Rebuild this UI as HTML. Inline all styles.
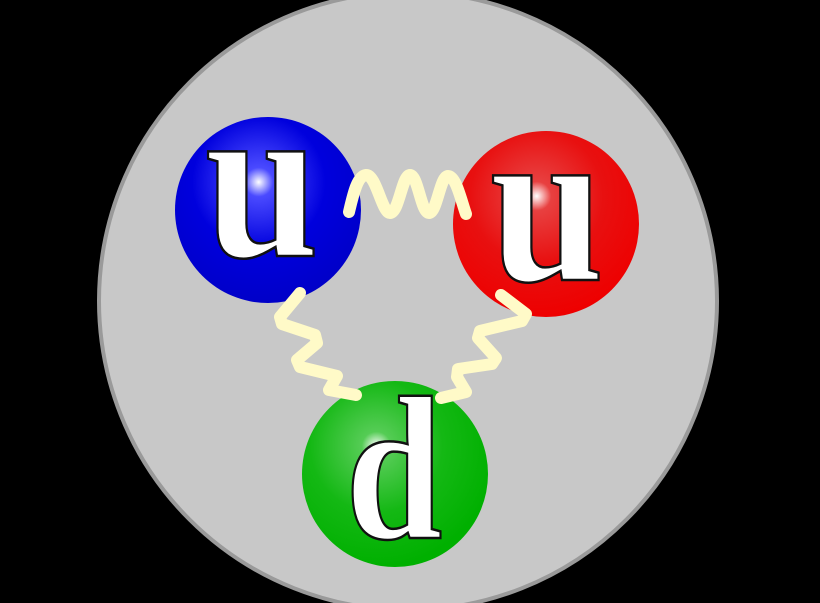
<!DOCTYPE html>
<html><head><style>html,body{margin:0;padding:0;background:#000;}svg{display:block}</style></head>
<body>
<svg width="820" height="603" viewBox="0 0 820 603" xmlns="http://www.w3.org/2000/svg">
<defs>
<radialGradient id="gb" cx="0.45" cy="0.35" r="0.65" fx="0.45" fy="0.35">
<stop offset="0" stop-color="#ffffff"/><stop offset="0.12" stop-color="#4a4aff"/><stop offset="0.55" stop-color="#0000dd"/><stop offset="1" stop-color="#0000c8"/></radialGradient>
<radialGradient id="gr" cx="0.45" cy="0.35" r="0.65" fx="0.45" fy="0.35">
<stop offset="0" stop-color="#ffffff"/><stop offset="0.12" stop-color="#e84040"/><stop offset="0.55" stop-color="#e81010"/><stop offset="1" stop-color="#ee0000"/></radialGradient>
<radialGradient id="gg" cx="0.4" cy="0.35" r="0.65" fx="0.4" fy="0.35">
<stop offset="0" stop-color="#ffffff"/><stop offset="0.12" stop-color="#55cc55"/><stop offset="0.55" stop-color="#14b814"/><stop offset="1" stop-color="#00b000"/></radialGradient>
</defs>
<rect width="820" height="603" fill="#000"/>
<circle cx="408" cy="301" r="309" fill="#c8c8c8" stroke="#9a9a9a" stroke-width="4"/>
<circle cx="268" cy="210" r="93" fill="url(#gb)"/>
<circle cx="546" cy="224" r="93" fill="url(#gr)"/>
<circle cx="395" cy="474" r="93" fill="url(#gg)"/>
<g fill="none" stroke="#fffac8" stroke-width="12" stroke-linecap="round" stroke-linejoin="round">
<path d="M349,212 C353,195 357,176 366,175 C376,174 382,213 390,213 C399,213 402,175 410,175 C418,175 421,213 429,213 C437,213 440,176 448,176 C456,176 461,200 466,214"/>
<polyline points="300,293 280,317 282,324 315,335 317,343 297,360 300,367 337,376 329,390 356,395"/>
<polyline points="501,295 526,314 522,321 480,331 478,338 496,358 492,364 458,369 457,377 466,392 441,398"/>
</g>
<g font-family="Liberation Serif, serif" font-weight="bold" fill="#fff" stroke="#111" stroke-width="2.5" text-anchor="middle">
<text transform="translate(262,256) scale(0.9,1)" font-size="228">u</text>
<text transform="translate(547,280) scale(0.9,1)" font-size="228">u</text>
<text transform="translate(394,538) scale(0.85,1)" font-size="205">d</text>
</g>
</svg>
</body></html>
